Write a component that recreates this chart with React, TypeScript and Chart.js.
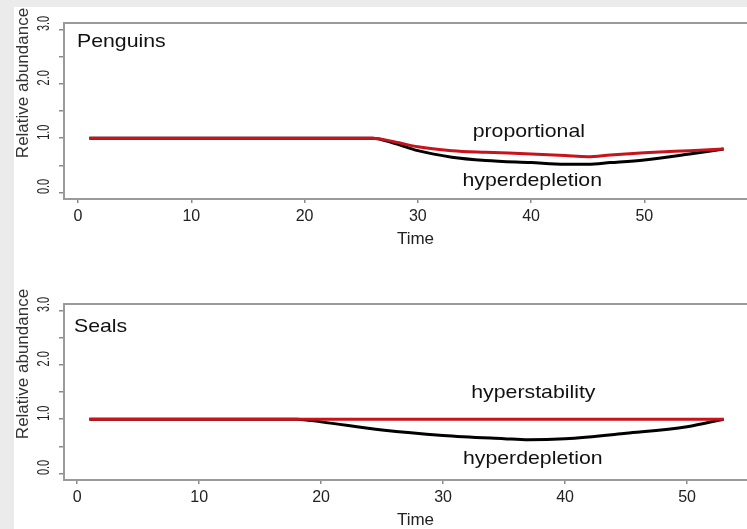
import React, { useEffect, useRef } from "react";
import { Chart, registerables } from "chart.js";

Chart.register(...registerables);

// ---------- data ----------
const penguinTime = [1, 26, 28, 30, 33, 36, 40, 43, 45, 47, 50, 54, 57];
const penguinProportional = [1.0, 1.0, 0.93, 0.84, 0.77, 0.74, 0.71, 0.68, 0.66, 0.69, 0.73, 0.77, 0.8];
const penguinHyperdepletion = [1.0, 1.0, 0.9, 0.77, 0.65, 0.59, 0.55, 0.52, 0.52, 0.55, 0.6, 0.71, 0.8];

const sealTime = [1, 18, 20, 25, 30, 35, 37, 40, 45, 50, 53];
const sealHyperstability = [1.0, 1.0, 1.0, 1.0, 1.0, 1.0, 1.0, 1.0, 1.0, 1.0, 1.0];
const sealHyperdepletion = [1.0, 1.0, 0.95, 0.8, 0.7, 0.64, 0.62, 0.64, 0.74, 0.86, 1.0];

const yTickValues = [0, 1, 2, 3];
const yTickLabels = ["0.0", "1.0", "2.0", "3.0"];
const xTitle = "Time";
const yTitle = "Relative abundance";

const FONT = '"Liberation Sans", Arial, Helvetica, sans-serif';
const RED = "#c8121c";
const BOX = "#9a9a9a";

type Annot = { text: string; x: number; y: number };
type PanelProps = {
  name: string;
  time: number[];
  red: number[];
  black: number[];
  xMin: number;
  xMax: number;
  width: number;
  height: number;
  padTop: number;
  areaBottom: number;
  nameOffset: [number, number];
  annots: Annot[];
};

const decorPlugin = {
  id: "panelDecor",
  afterDraw(chart: any, _args: any, opts: any) {
    const { ctx, chartArea: a, scales } = chart;
    const xs = scales.x;
    const ys = scales.y;
    ctx.save();
    // box
    ctx.strokeStyle = BOX;
    ctx.lineWidth = 2;
    ctx.strokeRect(a.left, a.top, a.right - a.left, a.bottom - a.top);

    // y tick labels (rotated, as in R)
    ctx.fillStyle = "#222";
    ctx.font = `17px ${FONT}`;
    ctx.textAlign = "center";
    ctx.textBaseline = "middle";
    yTickValues.forEach((v, i) => {
      const py = ys.getPixelForValue(v) - 6;
      ctx.save();
      ctx.translate(a.left - 20, py);
      ctx.rotate(-Math.PI / 2);
      ctx.scale(0.64, 1);
      ctx.fillText(yTickLabels[i], 0, 0);
      ctx.restore();
    });

    // y title
    ctx.fillStyle = "#333";
    ctx.font = `17px ${FONT}`;
    ctx.save();
    ctx.translate(a.left - 40.5, (a.top + a.bottom) / 2 - 28);
    ctx.rotate(-Math.PI / 2);
    ctx.fillText(yTitle, 0, 0);
    ctx.restore();

    // x title
    ctx.fillStyle = "#222";
    ctx.font = `17px ${FONT}`;
    ctx.fillText(xTitle, (a.left + a.right) / 2 + 9, a.bottom + 40);

    // panel name
    ctx.fillStyle = "#111";
    ctx.font = `19px ${FONT}`;
    ctx.textAlign = "left";
    ctx.textBaseline = "alphabetic";
    ctx.save();
    ctx.translate(a.left + opts.nameOffset[0], a.top + opts.nameOffset[1]);
    ctx.scale(1.12, 1);
    ctx.fillText(opts.name, 0, 0);
    ctx.restore();

    // annotations
    ctx.textAlign = "center";
    opts.annots.forEach((an: Annot) => {
      ctx.save();
      ctx.translate(xs.getPixelForValue(an.x), ys.getPixelForValue(an.y));
      ctx.scale(1.12, 1);
      ctx.fillText(an.text, 0, 0);
      ctx.restore();
    });
    ctx.restore();
  },
};

function Panel(p: PanelProps & { style: React.CSSProperties }) {
  const ref = useRef<HTMLCanvasElement | null>(null);
  useEffect(() => {
    if (!ref.current) return;
    const xAxisHeight = p.height - p.areaBottom;
    const chart = new Chart(ref.current, {
      type: "line",
      data: {
        datasets: [
          {
            data: p.time.map((t, i) => ({ x: t, y: p.red[i] })),
            borderColor: RED,
            borderWidth: 3,
            pointRadius: 0,
            cubicInterpolationMode: "monotone",
            fill: false,
          },
          {
            data: p.time.map((t, i) => ({ x: t, y: p.black[i] })),
            borderColor: "#000",
            borderWidth: 3,
            pointRadius: 0,
            cubicInterpolationMode: "monotone",
            fill: false,
          },
        ],
      },
      options: {
        responsive: false,
        maintainAspectRatio: false,
        animation: false,
        events: [],
        layout: { padding: { left: 0, right: 5, top: p.padTop, bottom: 0 } },
        plugins: {
          legend: { display: false },
          tooltip: { enabled: false },
          panelDecor: { name: p.name, nameOffset: p.nameOffset, annots: p.annots },
        } as any,
        scales: {
          x: {
            type: "linear",
            min: p.xMin,
            max: p.xMax,
            afterFit: (s: any) => {
              s.height = xAxisHeight;
            },
            border: { display: false },
            grid: {
              drawOnChartArea: false,
              drawTicks: true,
              tickLength: 4,
              color: "#8a8a8a",
              lineWidth: 1.5,
            },
            ticks: {
              stepSize: 10,
              includeBounds: false,
              autoSkip: false,
              maxRotation: 0,
              padding: 4,
              color: "#222",
              font: { family: FONT, size: 16 },
            },
          },
          y: {
            type: "linear",
            min: -0.12,
            max: 3.12,
            afterFit: (s: any) => {
              s.width = 50;
            },
            border: { display: false },
            grid: {
              drawOnChartArea: false,
              drawTicks: true,
              tickLength: 5,
              color: "#8a8a8a",
              lineWidth: 1.5,
            },
            ticks: { stepSize: 0.5, includeBounds: false, display: false },
          },
        },
      } as any,
      plugins: [decorPlugin as any],
    });
    return () => chart.destroy();
  }, []);
  return <canvas ref={ref} width={p.width} height={p.height} style={p.style} />;
}

export default function App() {
  return (
    <div
      style={{
        position: "fixed",
        left: 0,
        top: 0,
        width: 747,
        height: 529,
        background: "#ebebeb",
        overflow: "hidden",
      }}
    >
      <div style={{ position: "absolute", left: 14, top: 7, right: 0, bottom: 0, background: "#fff" }} />
      <Panel
        name="Penguins"
        time={penguinTime}
        red={penguinProportional}
        black={penguinHyperdepletion}
        xMin={-1.24}
        xMax={59.24}
        width={740}
        height={258}
        padTop={16}
        areaBottom={192}
        nameOffset={[13, 24]}
        annots={[
          { text: "proportional", x: 39.8, y: 1.03 },
          { text: "hyperdepletion", x: 40.1, y: 0.12 },
        ]}
        style={{ position: "absolute", left: 14, top: 7, display: "block" }}
      />
      <Panel
        name="Seals"
        time={sealTime}
        red={sealHyperstability}
        black={sealHyperdepletion}
        xMin={-1.08}
        xMax={55.08}
        width={740}
        height={264}
        padTop={39}
        areaBottom={215}
        nameOffset={[10, 28]}
        annots={[
          { text: "hyperstability", x: 37.4, y: 1.385 },
          { text: "hyperdepletion", x: 37.35, y: 0.18 },
        ]}
        style={{ position: "absolute", left: 14, top: 265, display: "block" }}
      />
    </div>
  );
}
